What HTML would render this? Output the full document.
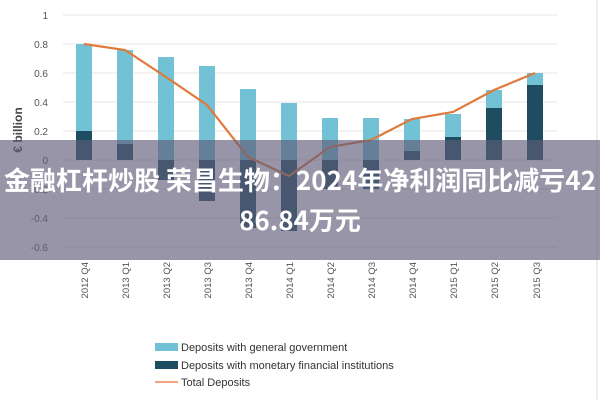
<!DOCTYPE html>
<html><head><meta charset="utf-8"><style>
body{margin:0;width:600px;height:400px;background:#fff;overflow:hidden;position:relative;font-family:"Liberation Sans",sans-serif}
svg{position:absolute;left:0;top:0}
.ov{position:absolute;left:0;top:140px;width:600px;height:120px;background:rgba(95,92,120,0.65);color:#fff;font-family:"Noto Sans CJK SC","Liberation Sans",sans-serif;font-weight:bold;font-size:26px;text-align:center;line-height:40px;padding-top:20px;box-sizing:border-box;white-space:nowrap}
</style></head><body>
<svg width="600" height="400" viewBox="0 0 600 400" font-family="Liberation Sans, sans-serif">
<g stroke="#e6e6e6" stroke-width="1">
<line x1="63" x2="557" y1="15" y2="15"/><line x1="63" x2="557" y1="44" y2="44"/><line x1="63" x2="557" y1="73" y2="73"/><line x1="63" x2="557" y1="102" y2="102"/><line x1="63" x2="557" y1="131" y2="131"/><line x1="63" x2="557" y1="160" y2="160"/><line x1="63" x2="557" y1="189" y2="189"/><line x1="63" x2="557" y1="218" y2="218"/><line x1="63" x2="557" y1="247" y2="247"/>
</g>
<line x1="597" x2="597" y1="0" y2="400" stroke="#ddd"/>
<g font-size="10" fill="#555" text-anchor="end">
<text x="48" y="19">1</text><text x="48" y="48">0.8</text><text x="48" y="77">0.6</text><text x="48" y="106">0.4</text><text x="48" y="135">0.2</text><text x="48" y="164">0</text><text x="48" y="193">-0.2</text><text x="48" y="222">-0.4</text><text x="48" y="251">-0.6</text>
</g>
<text transform="translate(22,130) rotate(-90)" font-size="12" font-weight="bold" fill="#444" text-anchor="middle">€ billion</text>
<g fill="#72c1d5">
<rect x="76" y="44" width="16" height="87"/><rect x="117" y="50" width="16" height="94"/><rect x="158" y="57" width="16" height="103"/><rect x="199" y="66" width="16" height="94"/><rect x="240" y="89" width="16" height="71"/><rect x="281" y="103" width="16" height="57"/><rect x="322" y="118" width="16" height="42"/><rect x="363" y="118" width="16" height="42"/><rect x="404" y="119" width="16" height="32"/><rect x="445" y="114" width="16" height="23"/><rect x="486" y="90" width="16" height="18"/><rect x="527" y="73" width="16" height="12"/>
</g>
<g fill="#1e4d62">
<rect x="76" y="131" width="16" height="29"/><rect x="117" y="144" width="16" height="16"/><rect x="158" y="160" width="16" height="20"/><rect x="199" y="160" width="16" height="41"/><rect x="240" y="160" width="16" height="68"/><rect x="281" y="160" width="16" height="71"/><rect x="322" y="160" width="16" height="29"/><rect x="363" y="160" width="16" height="29"/><rect x="404" y="151" width="16" height="9"/><rect x="445" y="137" width="16" height="23"/><rect x="486" y="108" width="16" height="52"/><rect x="527" y="85" width="16" height="75"/>
</g>
<polyline fill="none" stroke="#e07a3c" stroke-width="2.2" points="84,44 125,50 166,77 207,105 248,157 289,176 330,147 371,140 412,119 453,112 494,90 535,73"/>
<g font-size="9.5" fill="#555" text-anchor="end">
<text transform="translate(88,262) rotate(-90)">2012 Q4</text><text transform="translate(129,262) rotate(-90)">2013 Q1</text><text transform="translate(170,262) rotate(-90)">2013 Q2</text><text transform="translate(211,262) rotate(-90)">2013 Q3</text><text transform="translate(252,262) rotate(-90)">2013 Q4</text><text transform="translate(293,262) rotate(-90)">2014 Q1</text><text transform="translate(334,262) rotate(-90)">2014 Q2</text><text transform="translate(375,262) rotate(-90)">2014 Q3</text><text transform="translate(416,262) rotate(-90)">2014 Q4</text><text transform="translate(457,262) rotate(-90)">2015 Q1</text><text transform="translate(498,262) rotate(-90)">2015 Q2</text><text transform="translate(540,262) rotate(-90)">2015 Q3</text>
</g>
<rect x="155" y="343" width="23" height="8" fill="#72c1d5"/>
<rect x="155" y="361" width="23" height="8" fill="#1e4d62"/>
<rect x="155" y="381" width="23" height="2" fill="#f0a57e"/>
<g font-size="11" fill="#333">
<text x="181" y="351">Deposits with general government</text>
<text x="181" y="369">Deposits with monetary financial institutions</text>
<text x="181" y="386">Total Deposits</text>
</g>
</svg>
<div class="ov">金融杠杆炒股 荣昌生物：2024年净利润同比减亏42<br>86.84万元</div>
</body></html>
